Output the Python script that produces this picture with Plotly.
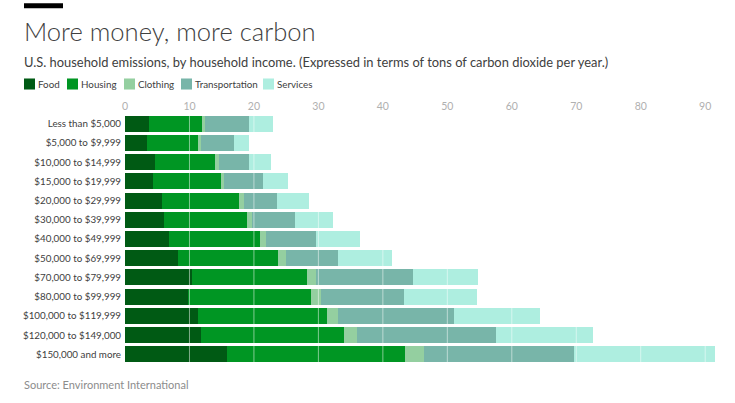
import plotly.graph_objects as go

incomes = ["Less than $5,000", "$5,000 to $9,999", "$10,000 to $14,999", "$15,000 to $19,999",
           "$20,000 to $29,999", "$30,000 to $39,999", "$40,000 to $49,999", "$50,000 to $69,999",
           "$70,000 to $79,999", "$80,000 to $99,999", "$100,000 to $119,999",
           "$120,000 to $149,000", "$150,000 and more"]

food = [3.7, 3.4, 4.7, 4.3, 5.7, 6.0, 6.8, 8.2, 10.4, 9.8, 11.3, 11.8, 15.8]
housing = [8.2, 7.9, 9.3, 10.6, 12.0, 12.9, 14.1, 15.5, 17.8, 19.0, 20.0, 22.2, 27.6]
clothing = [0.5, 0.5, 0.6, 0.5, 0.8, 0.8, 0.9, 1.2, 1.4, 1.6, 1.7, 2.0, 3.0]
transportation = [6.8, 5.1, 4.6, 6.0, 5.1, 6.7, 7.9, 8.1, 15.0, 12.8, 18.0, 21.6, 23.2]
services = [3.7, 2.3, 3.4, 3.9, 5.0, 5.9, 6.7, 8.4, 10.1, 11.4, 13.3, 15.0, 21.9]

series_names = ["Food", "Housing", "Clothing", "Transportation", "Services"]
series_values = [food, housing, clothing, transportation, services]
colors = ["#005a14", "#009623", "#94cfa0", "#78b5a9", "#aeeee0"]
x_ticks = [0, 10, 20, 30, 40, 50, 60, 70, 80, 90]

W, H = 735, 403
LEFT, RIGHT, TOP, BOTTOM = 125, 715, 114.4, 363.6
FONT = "Lato"


# pixel position -> paper coords, the header and legend sit outside the plot area
def px(x):
    return (x - LEFT) / (RIGHT - LEFT)


def py(y):
    return (BOTTOM - y) / (BOTTOM - TOP)


fig = go.Figure()
for name, values, color in zip(series_names, series_values, colors):
    fig.add_trace(go.Bar(y=incomes, x=values, name=name, orientation="h",
                         marker=dict(color=color, line_width=0)))

# white rules run over the bars
for t in x_ticks[1:]:
    fig.add_shape(type="line", xref="x", yref="paper", x0=t, x1=t, y0=0, y1=1,
                  line=dict(color="rgba(255,255,255,0.5)", width=1), layer="above")

fig.add_shape(type="rect", xref="paper", yref="paper", x0=px(24), x1=px(63), y0=py(9), y1=py(4),
              fillcolor="black", line_width=0)


def add_text(x, y, text, size, color, weight=400):
    fig.add_annotation(xref="paper", yref="paper", x=px(x), y=py(y), text=text, showarrow=False,
                       xanchor="left", yanchor="middle", xshift=0, borderpad=0, borderwidth=0,
                       font=dict(family=FONT, size=size, color=color, weight=weight))


add_text(24, 32, "More money, more carbon", 25.6, "#404040", 300)
add_text(24, 62.5, "U.S. household emissions, by household income. (Expressed in terms of tons of carbon dioxide per year.)",
         12.9, "#404040")
add_text(24, 384, "Source: Environment International", 11, "#8c8c8c")

# legend
swatch_x = [24, 67, 124, 181, 263]
label_x = [38, 81, 138, 195, 277]
for name, color, sx, lx in zip(series_names, colors, swatch_x, label_x):
    fig.add_shape(type="rect", xref="paper", yref="paper", x0=px(sx), x1=px(sx + 11), y0=py(90), y1=py(79),
                  fillcolor=color, line_width=0)
    add_text(lx, 84, name, 9.8, "#404040")

fig.update_layout(
    width=W, height=H, barmode="stack", bargap=0.165, showlegend=False,
    paper_bgcolor="white", plot_bgcolor="white",
    margin=dict(l=LEFT, r=W - RIGHT, t=TOP, b=H - BOTTOM, pad=0, autoexpand=False),
    font=dict(family=FONT),
    xaxis=dict(side="top", range=[0, 91.52], tickvals=x_ticks, showgrid=False, zeroline=False,
               showline=False, ticks="", ticklabelstandoff=1, tickfont=dict(size=10.5, color="#b0b0b0")),
    yaxis=dict(autorange="reversed", showgrid=False, zeroline=False, showline=False,
               ticks="outside", ticklen=1, tickcolor="white", tickfont=dict(size=9.8, color="#404040")),
)

fig.write_html("out.html", config=dict(displayModeBar=False), post_script="document.body.style.margin='0'")
